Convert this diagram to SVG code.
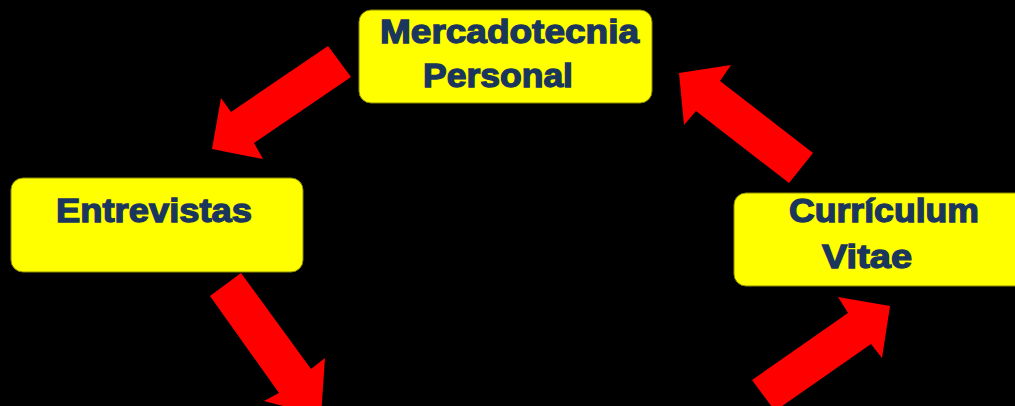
<svg xmlns="http://www.w3.org/2000/svg" width="1015" height="406" viewBox="0 0 1015 406">
<style>
.box{fill:#FFFF00;stroke:#8a8a00;stroke-width:1}
.lbl{font-family:"Liberation Sans",Arial,sans-serif;font-weight:bold;font-size:33px;fill:#1B365D;stroke:#1B365D;stroke-width:1.3}
.arr{fill:#FF0000}
</style>
<rect width="1015" height="406" fill="#000"/>
<g id="connectors">
<polygon class="arr" points="328,46 351,77 254,143 263,159 212,149 221,98 231,112"/>
<polygon class="arr" points="813,153 789,183 696,111 684,125 679,73 731,65 720,81"/>
<polygon class="arr" points="752,380 848,313 838,297 890,306 882,358 871,344 775,411"/>
<polygon class="arr" points="241,273 311,369 325,358 321,416 264,401 279,393 210,296"/>
</g>
<g id="node-mercadotecnia">
<rect class="box" x="359" y="10" width="293" height="93" rx="12"/>
<text class="lbl" x="380" y="43" textLength="259" lengthAdjust="spacingAndGlyphs">Mercadotecnia</text>
<text class="lbl" x="423" y="87" textLength="150" lengthAdjust="spacingAndGlyphs">Personal</text>
</g>
<g id="node-entrevistas">
<rect class="box" x="11" y="178" width="292" height="94" rx="12"/>
<text class="lbl" x="56" y="222" textLength="196" lengthAdjust="spacingAndGlyphs">Entrevistas</text>
</g>
<g id="node-curriculum">
<rect class="box" x="734" y="193" width="300" height="93" rx="12"/>
<text class="lbl" x="789" y="222" textLength="190" lengthAdjust="spacingAndGlyphs">Currículum</text>
<text class="lbl" x="822" y="268" textLength="90" lengthAdjust="spacingAndGlyphs">Vitae</text>
</g>
</svg>
